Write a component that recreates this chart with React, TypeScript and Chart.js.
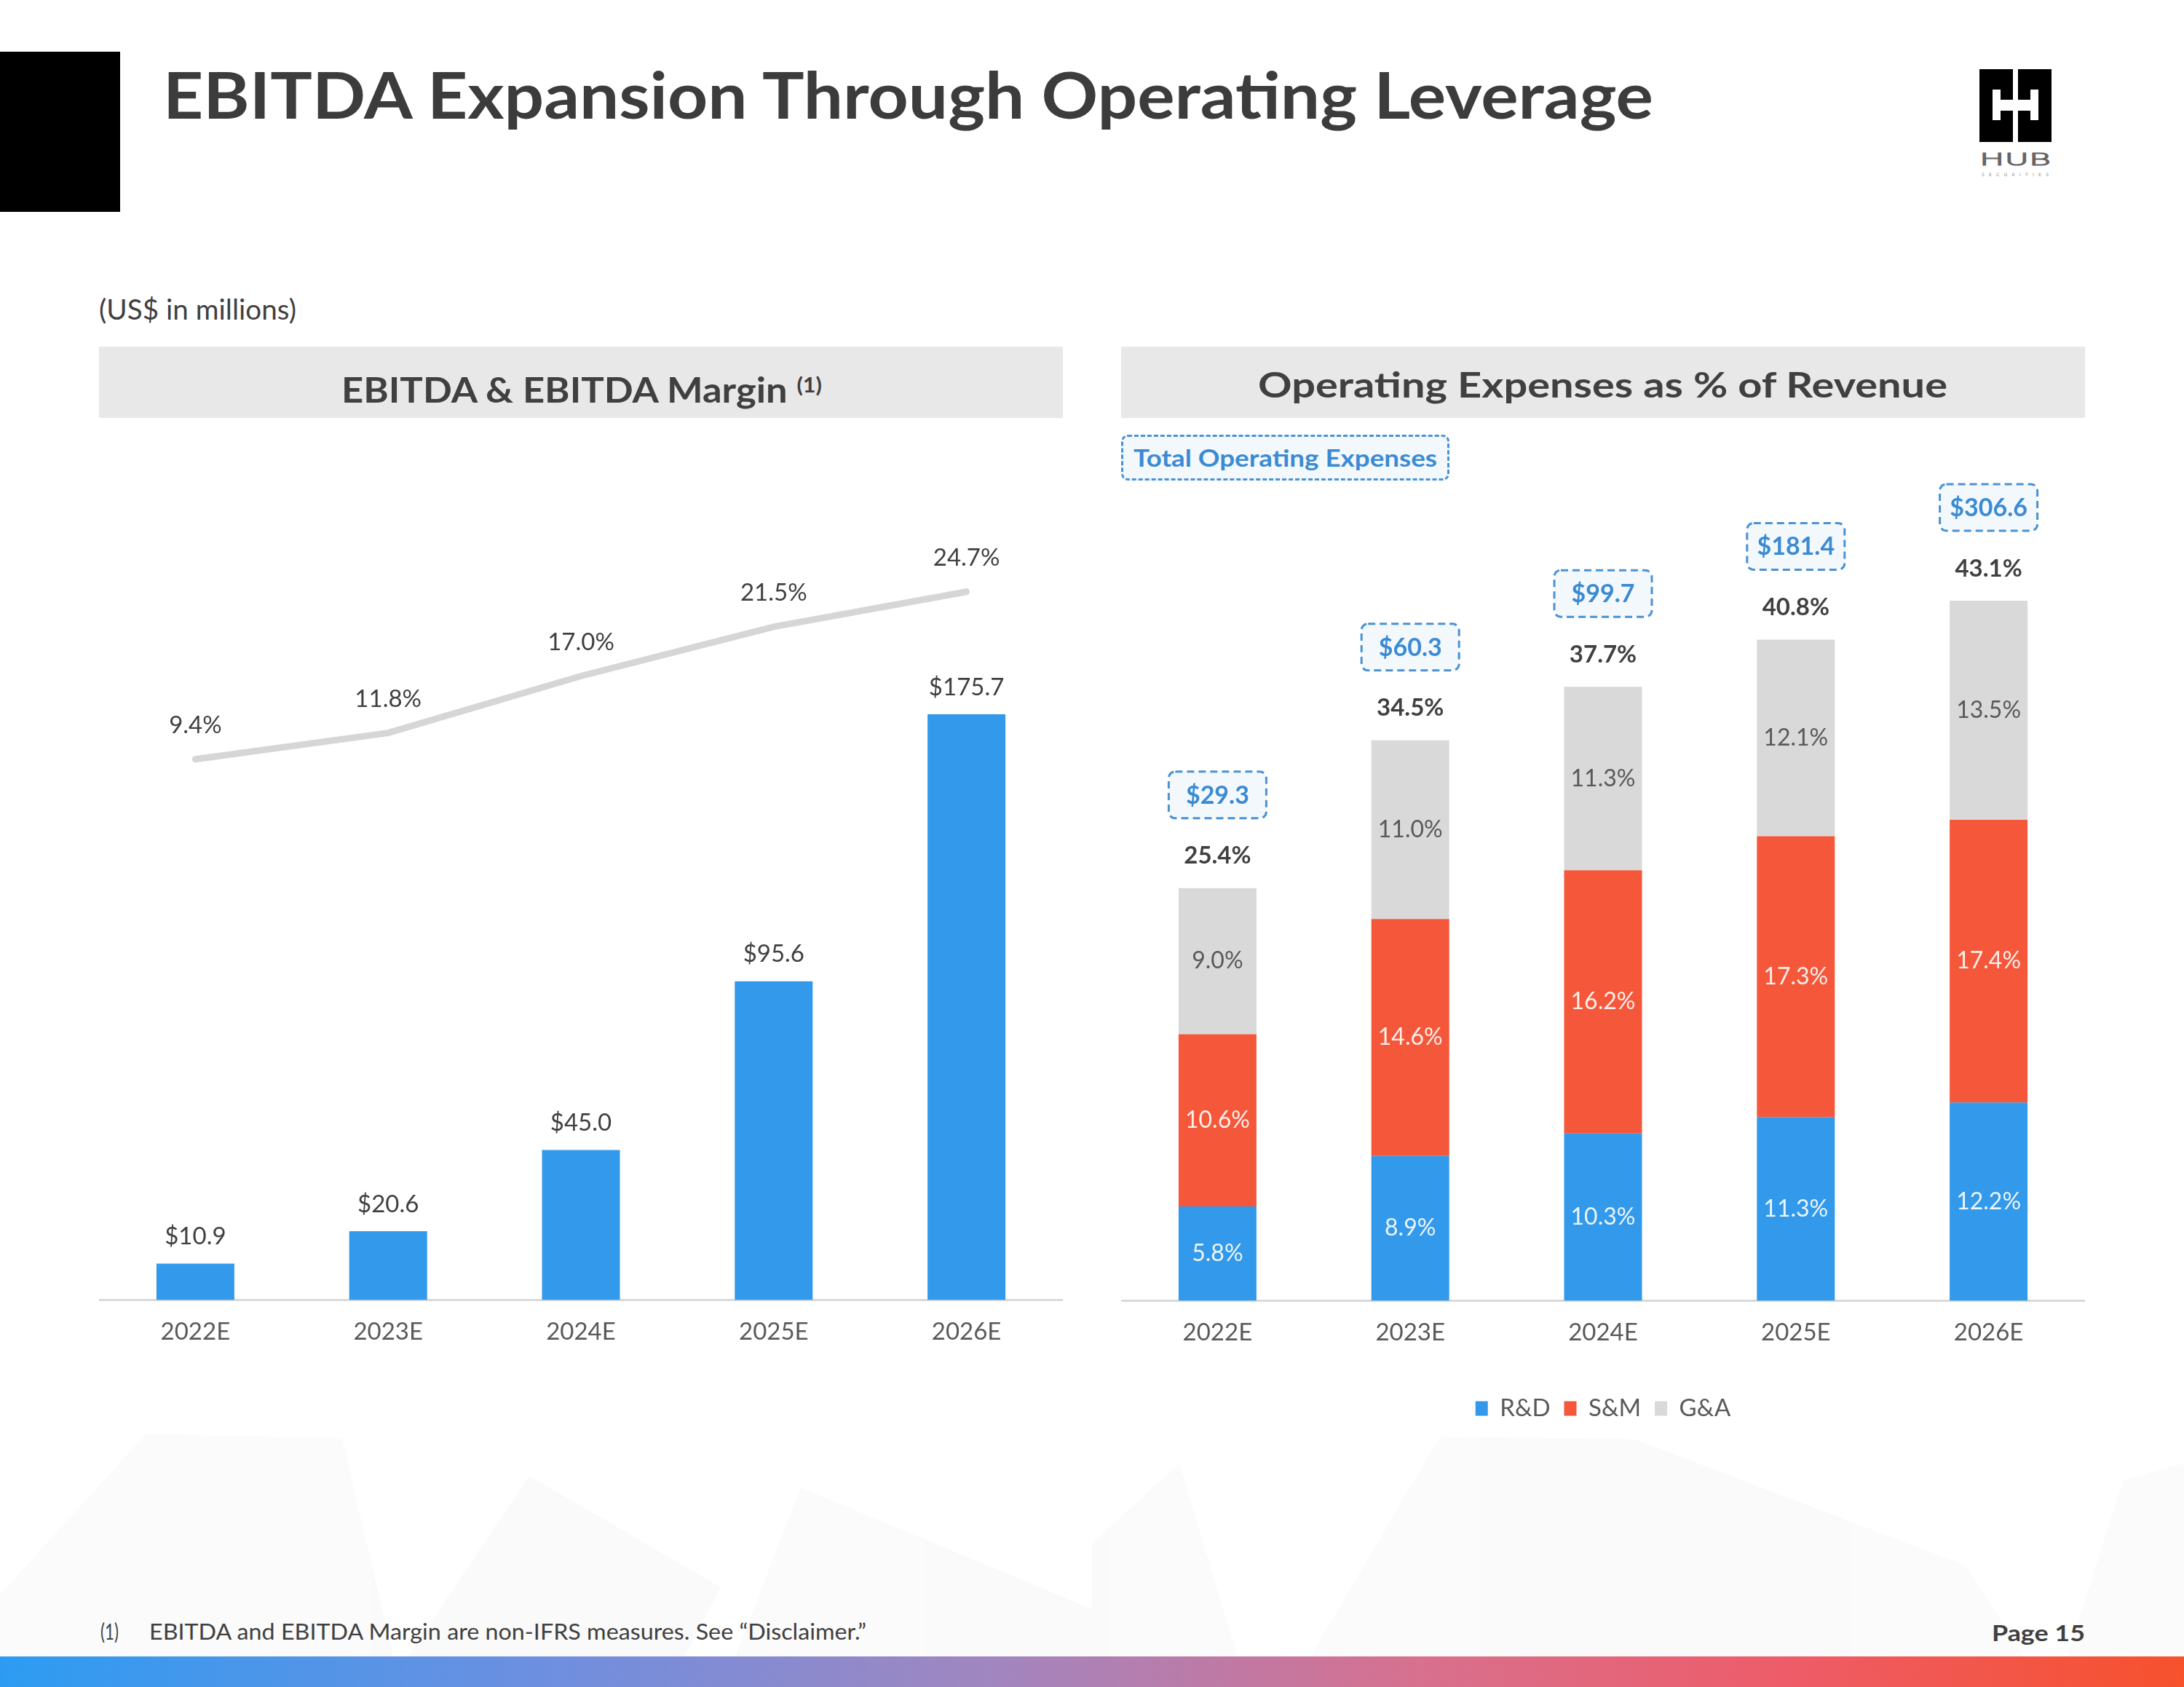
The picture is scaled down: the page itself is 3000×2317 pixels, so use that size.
import React, { useEffect, useLayoutEffect, useRef } from 'react';
import { Chart, registerables } from 'chart.js';

Chart.register(...registerables);

// ---------- data ----------
const years = ['2022E', '2023E', '2024E', '2025E', '2026E'];
const ebitda = [10.9, 20.6, 45.0, 95.6, 175.7];
const ebitdaMargin = [9.4, 11.8, 17.0, 21.5, 24.7];
const rdPct = [5.8, 8.9, 10.3, 11.3, 12.2];
const smPct = [10.6, 14.6, 16.2, 17.3, 17.4];
const gaPct = [9.0, 11.0, 11.3, 12.1, 13.5];
const totalPct = [25.4, 34.5, 37.7, 40.8, 43.1];
const totalOpex = [29.3, 60.3, 99.7, 181.4, 306.6];
const legendNames = ['R&D', 'S&M', 'G&A'];

// ---------- styles ----------
const FONT = 'Lato';
const BLUE = '#3399EA';
const RED = '#F5573A';
const GRAY = '#D9D9D9';
const LINE_GRAY = '#D6D6D6';
const TEXT = '#404040';
const TICK = '#595959';
const BOX_BLUE = '#3B8BD3';

function FitText(props: any) {
  const { x, cy, size, width, weight, color, children, style } = props;
  const ref = useRef<HTMLDivElement>(null);
  useLayoutEffect(() => {
    const el = ref.current;
    if (!el) return;
    el.style.transform = 'none';
    const w = el.getBoundingClientRect().width;
    if (width && w > 0) el.style.transform = `scaleX(${width / w})`;
  }, []);
  return (
    <div
      ref={ref}
      style={{
        position: 'absolute',
        left: x,
        top: cy - size / 2,
        fontSize: size,
        lineHeight: `${size}px`,
        whiteSpace: 'nowrap',
        transformOrigin: 'left center',
        fontWeight: weight || 400,
        color: color || TEXT,
        fontFamily: FONT,
        ...(style || {}),
      }}
    >
      {children}
    </div>
  );
}

function ChartBox(props: any) {
  const { left, top, width, height, make } = props;
  const ref = useRef<HTMLCanvasElement>(null);
  useEffect(() => {
    const chart = new Chart(ref.current as HTMLCanvasElement, make());
    return () => chart.destroy();
  }, []);
  return (
    <canvas
      ref={ref}
      width={width}
      height={height}
      style={{ position: 'absolute', left, top, width, height }}
    />
  );
}

const leftLabelPlugin = {
  id: 'leftLabels',
  afterDatasetsDraw(chart: any) {
    const { ctx } = chart;
    ctx.save();
    ctx.textAlign = 'center';
    ctx.textBaseline = 'middle';
    ctx.font = `33px ${FONT}`;
    ctx.fillStyle = TEXT;
    chart.getDatasetMeta(1).data.forEach((el: any, i: number) => {
      ctx.fillText('$' + ebitda[i].toFixed(1), el.x, el.y - 37);
    });
    chart.getDatasetMeta(0).data.forEach((el: any, i: number) => {
      ctx.fillText(ebitdaMargin[i].toFixed(1) + '%', el.x, el.y - 46);
    });
    ctx.restore();
  },
};

const rightLabelPlugin = {
  id: 'rightLabels',
  afterDatasetsDraw(chart: any) {
    const { ctx } = chart;
    ctx.save();
    ctx.textAlign = 'center';
    ctx.textBaseline = 'middle';
    const colors = ['rgba(255,255,255,0.9)', 'rgba(255,255,255,0.9)', TICK];
    chart.data.datasets.forEach((ds: any, di: number) => {
      const meta = chart.getDatasetMeta(di);
      ctx.font = `32px ${FONT}`;
      ctx.fillStyle = colors[di];
      meta.data.forEach((el: any, i: number) => {
        ctx.fillText(ds.data[i].toFixed(1) + '%', el.x, (el.y + el.base) / 2);
      });
    });
    chart.getDatasetMeta(2).data.forEach((el: any, i: number) => {
      ctx.font = `bold 33px ${FONT}`;
      ctx.fillStyle = TEXT;
      ctx.fillText(totalPct[i].toFixed(1) + '%', el.x, el.y - 44);
      const bw = 134;
      const bh = 64;
      const cy = el.y - 128;
      ctx.beginPath();
      ctx.roundRect(el.x - bw / 2, cy - bh / 2, bw, bh, 9);
      ctx.fillStyle = '#F3F8FD';
      ctx.fill();
      ctx.setLineDash([10, 6]);
      ctx.lineWidth = 3;
      ctx.strokeStyle = '#4A92D4';
      ctx.stroke();
      ctx.setLineDash([]);
      ctx.font = `bold 34px ${FONT}`;
      ctx.fillStyle = BOX_BLUE;
      ctx.fillText('$' + totalOpex[i].toFixed(1), el.x, cy + 1);
    });
    ctx.restore();
  },
};

const xAxis = (extra: number) => ({
  grid: { display: false, drawTicks: false },
  border: { display: true, color: '#D9D9D9', width: 3 },
  ticks: { color: TICK, font: { family: FONT, size: 33 }, padding: 24 },
  afterFit: (scale: any) => {
    scale.height += extra;
  },
});

const makeLeft = () => ({
  type: 'bar',
  data: {
    labels: years,
    datasets: [
      {
        type: 'line',
        label: 'EBITDA Margin',
        data: ebitdaMargin,
        borderColor: LINE_GRAY,
        borderWidth: 9,
        pointRadius: 0,
        borderCapStyle: 'round',
        yAxisID: 'y2',
        order: 1,
      },
      {
        type: 'bar',
        label: 'EBITDA',
        data: ebitda,
        backgroundColor: BLUE,
        barPercentage: 0.404,
        categoryPercentage: 1,
        yAxisID: 'y',
        order: 2,
      },
    ],
  },
  options: {
    responsive: false,
    maintainAspectRatio: false,
    animation: false,
    devicePixelRatio: 1,
    layout: { padding: { top: 100, left: 0, right: 0, bottom: 0 } },
    plugins: { legend: { display: false }, tooltip: { enabled: false } },
    scales: {
      x: xAxis(0),
      y: { display: false, min: 0, max: 237.1 },
      y2: { display: false, min: -40, max: 32.2, position: 'right' },
    },
  },
  plugins: [leftLabelPlugin],
});

const makeRight = () => ({
  type: 'bar',
  data: {
    labels: years,
    datasets: [
      { label: legendNames[0], data: rdPct, backgroundColor: BLUE },
      { label: legendNames[1], data: smPct, backgroundColor: RED },
      { label: legendNames[2], data: gaPct, backgroundColor: GRAY },
    ],
  },
  options: {
    responsive: false,
    maintainAspectRatio: false,
    animation: false,
    devicePixelRatio: 1,
    layout: { padding: { top: 100, left: 0, right: 0, bottom: 0 } },
    datasets: { bar: { barPercentage: 0.404, categoryPercentage: 1 } },
    plugins: {
      tooltip: { enabled: false },
      legend: {
        display: true,
        position: 'bottom',
        labels: {
          boxWidth: 17,
          boxHeight: 20,
          padding: 19,
          color: TICK,
          font: { family: FONT, size: 33 },
        },
      },
    },
    scales: {
      x: { ...xAxis(25), stacked: true },
      y: { display: false, stacked: true, min: 0, max: 48.7 },
    },
  },
  plugins: [rightLabelPlugin],
});

export default function App() {
  return (
    <div
      style={{
        position: 'absolute',
        left: 0,
        top: 0,
        width: 3000,
        height: 2317,
        background: '#FFFFFF',
        overflow: 'hidden',
        fontFamily: FONT,
      }}
    >
      <svg
        width={3000}
        height={2317}
        style={{ position: 'absolute', left: 0, top: 0 }}
      >
        <defs>
          <linearGradient id="bottomBar" x1="0" x2="1" y1="0" y2="0">
            <stop offset="0%" stopColor="#2C9CF2" />
            <stop offset="25%" stopColor="#6E8FE0" />
            <stop offset="45%" stopColor="#A086C0" />
            <stop offset="65%" stopColor="#D8708E" />
            <stop offset="82%" stopColor="#EE5C68" />
            <stop offset="100%" stopColor="#F7512C" />
          </linearGradient>
        </defs>
        {/* very faint background polygons */}
        <g fill="#F3F3F3" opacity={0.35}>
          <polygon points="0,2190 200,1970 470,1975 540,2275 0,2275" />
          <polygon points="727,2027 990,2180 940,2275 560,2275" />
          <polygon points="1100,2043 1500,2210 1500,2275 1010,2275" />
          <polygon points="1978,1973 2246,1977 2310,2275 1800,2275" />
          <polygon points="2246,1977 2700,2150 2780,2275 2310,2275" />
          <polygon points="2916,2033 3000,2010 3000,2275 2840,2275" />
          <polygon points="1500,2120 1620,2010 1700,2275 1500,2275" />
        </g>
        <rect x={0} y={71} width={165} height={220} fill="#000" />
        {/* logo */}
        <rect x={2719} y={95} width={46} height={100} fill="#000" />
        <rect x={2772} y={95} width={46} height={100} fill="#000" />
        <rect x={2737} y={123} width={11} height={42} fill="#fff" />
        <rect x={2789} y={123} width={11} height={42} fill="#fff" />
        <rect x={2748} y={137} width={41} height={15} fill="#fff" />
        <text
          x={2719}
          y={227}
          fontFamily="DejaVu Sans"
          fontSize={23}
          fontWeight={300}
          fill="none"
          stroke="#666"
          strokeWidth={1.2}
          textLength={98}
          lengthAdjust="spacingAndGlyphs"
        >
          HUB
        </text>
        <text
          x={2722}
          y={242}
          fontFamily="DejaVu Sans"
          fontSize={6}
          fill="#888"
          textLength={92}
        >
          SECURITIES
        </text>
        {/* header boxes */}
        <rect x={136} y={476} width={1324} height={98} fill="#E8E8E8" />
        <rect x={1540} y={476} width={1324} height={98} fill="#E8E8E8" />
        <rect x={0} y={2275} width={3000} height={42} fill="url(#bottomBar)" />
      </svg>

      <FitText x={224} cy={129} size={88} width={2047} weight={700} color="#3C3C3C">
        EBITDA Expansion Through Operating Leverage
      </FitText>
      <FitText x={136} cy={424} size={38} width={271}>
        (US$ in millions)
      </FitText>
      <FitText x={469} cy={528} size={48} width={660} weight={700}>
        EBITDA &amp; EBITDA Margin{' '}
        <span style={{ fontSize: 28, verticalAlign: 14 }}>(1)</span>
      </FitText>
      <FitText x={1728} cy={528} size={48} width={947} weight={700}>
        Operating Expenses as % of Revenue
      </FitText>

      <div
        style={{
          position: 'absolute',
          left: 1540,
          top: 597,
          width: 451,
          height: 63,
          boxSizing: 'border-box',
          border: '3px dashed #4A92D4',
          borderRadius: 9,
          background: '#F3F8FD',
        }}
      />
      <FitText x={1557} cy={628} size={33} width={417} weight={700} color={BOX_BLUE}>
        Total Operating Expenses
      </FitText>

      <ChartBox left={136} top={600} width={1324} height={1273} make={makeLeft} />
      <ChartBox left={1540} top={600} width={1324} height={1361} make={makeRight} />

      <FitText x={138} cy={2240} size={30} width={25}>
        (1)
      </FitText>
      <FitText x={205} cy={2240} size={30} width={985}>
        EBITDA and EBITDA Margin are non-IFRS measures. See “Disclaimer.”
      </FitText>
      <FitText x={2736} cy={2242} size={30} width={128} weight={700}>
        Page 15
      </FitText>
    </div>
  );
}
